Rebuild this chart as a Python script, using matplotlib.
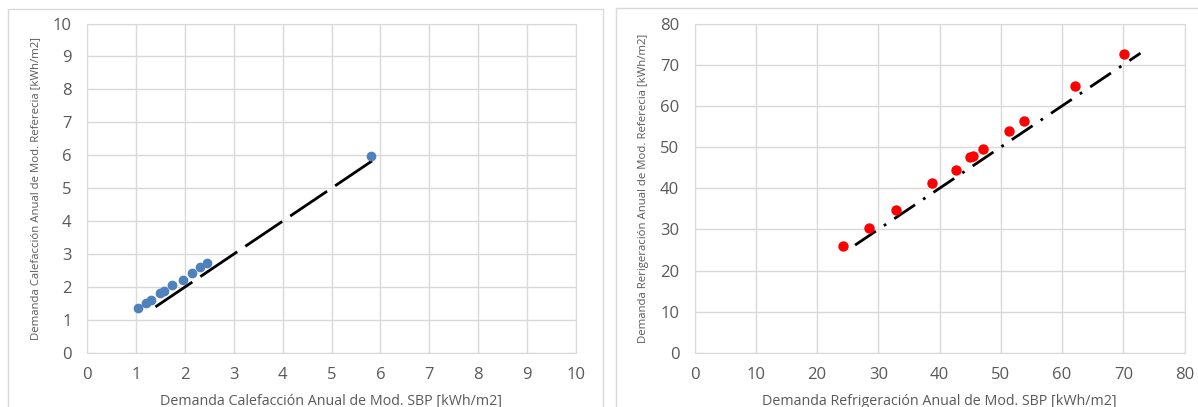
import matplotlib.pyplot as plt
from matplotlib.patches import Rectangle

# calefaccion (heating) - SBP vs referencia
cal_sbp = [1.05, 1.20, 1.30, 1.49, 1.58, 1.74, 1.96, 2.14, 2.32, 2.46, 5.80]
cal_ref = [1.38, 1.51, 1.62, 1.82, 1.88, 2.06, 2.22, 2.42, 2.60, 2.72, 5.97]
cal_line = [1.4, 5.9]

# refrigeracion (cooling)
ref_sbp = [24.3, 28.5, 32.9, 38.8, 42.7, 45.0, 45.5, 47.1, 51.4, 53.7, 62.1, 70.1]
ref_ref = [26.0, 30.3, 34.7, 41.3, 44.5, 47.5, 47.8, 49.5, 53.9, 56.3, 64.8, 72.7]
ref_line = [26.2, 72.8]

cal_ticks = list(range(0, 11))
ref_ticks = list(range(0, 81, 10))

plt.rcParams['font.family'] = ['Open Sans', 'DejaVu Sans']
txt = '#595959'
grid = '#d9d9d9'

fig = plt.figure(figsize=(11.98, 4.07), dpi=100)

# chart area frames
fig.patches.append(Rectangle((8 / 1198, -0.1), 595 / 1198, 1.1 - 9 / 407, transform=fig.transFigure,
                             fill=False, edgecolor=grid, lw=1))
fig.patches.append(Rectangle((616 / 1198, -0.1), 0.6, 1.1 - 8 / 407, transform=fig.transFigure,
                             fill=False, edgecolor=grid, lw=1))

ax1 = fig.add_axes([87 / 1198, 54 / 407, 489 / 1198, 329.5 / 407])
ax2 = fig.add_axes([694.6 / 1198, 54 / 407, 490 / 1198, 329.5 / 407])


def style(ax, ticks, xlabel, ylabel):
    ax.set_xlim(ticks[0], ticks[-1])
    ax.set_ylim(ticks[0], ticks[-1])
    ax.set_xticks(ticks)
    ax.set_yticks(ticks)
    ax.grid(True, color=grid, lw=1)
    ax.set_axisbelow(True)
    for s in ax.spines.values():
        s.set_color(grid)
    ax.tick_params(length=0, colors=txt, labelsize=12)
    ax.tick_params(axis='y', pad=11)
    ax.tick_params(axis='x', pad=10)
    ax.set_xlabel(xlabel, color=txt, fontsize=10.3, labelpad=8)
    ax.set_ylabel(ylabel, color=txt, fontsize=8.2, labelpad=8)


ax1.plot(cal_line, cal_line, color='black', lw=2.0, dashes=(16, 3.5), zorder=2)
ax1.scatter(cal_sbp, cal_ref, s=36, color='#4f81bd', zorder=3)
style(ax1, cal_ticks, 'Demanda Calefacción Anual de Mod. SBP [kWh/m2]',
      'Demanda Calefacción Anual de Mod. Referecia [kWh/m2]')

ax2.plot(ref_line, ref_line, color='black', lw=2.0, dashes=(9, 3.5, 1, 3.5), zorder=2)
ax2.scatter(ref_sbp, ref_ref, s=42, color='#ff0000', zorder=3)
style(ax2, ref_ticks, 'Demanda Refrigeración Anual de Mod. SBP [kWh/m2]',
      'Demanda Rerigeración Anual de Mod. Referecia [kWh/m2]')

plt.savefig('out.png', dpi=100)
